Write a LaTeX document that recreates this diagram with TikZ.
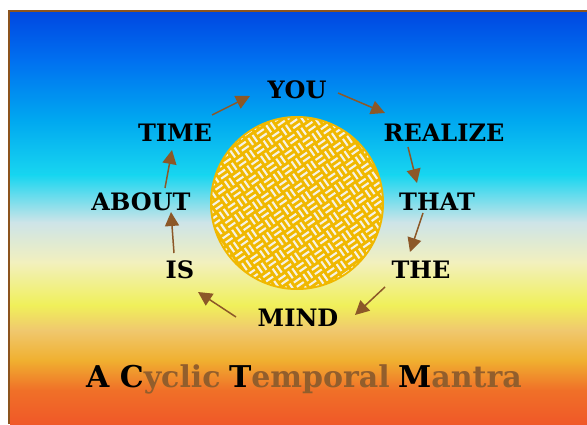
\documentclass[tikz,border=0pt]{standalone}
\usepackage{fontspec}
\setmainfont{DejaVu Serif}
\usetikzlibrary{arrows.meta}

\definecolor{framebrown}{RGB}{140,84,30}
\definecolor{arrowbrown}{RGB}{140,88,40}
\definecolor{titlebrown}{RGB}{146,94,44}
\definecolor{sungold}{RGB}{240,184,0}
\definecolor{weavewhite}{RGB}{246,242,228}
\definecolor{sk0}{RGB}{0,72,225}
\definecolor{sk1}{RGB}{0,112,240}
\definecolor{sk2}{RGB}{0,168,240}
\definecolor{sk3}{RGB}{24,214,240}
\definecolor{sk4}{RGB}{205,228,232}
\definecolor{sk5}{RGB}{242,240,190}
\definecolor{sk6}{RGB}{240,240,90}
\definecolor{sk7}{RGB}{240,200,110}
\definecolor{sk8}{RGB}{240,176,48}
\definecolor{sk9}{RGB}{240,112,40}
\definecolor{sk10}{RGB}{240,88,40}

\begin{document}
\begin{tikzpicture}[x=1pt, y=1pt,
  every node/.style={font=\bfseries\fontsize{24}{24}\selectfont, inner sep=0pt},
  cyc/.style={-{Triangle[length=14pt,width=14pt]}, color=arrowbrown, line width=1.5pt},
  weave/.style={draw=weavewhite, line width=2.1pt}]
  \useasboundingbox (0,0) rectangle (587,424);

  % Sky background, top to bottom
  \foreach \ya/\yb/\ca/\cb in {412/364/sk0/sk1, 364/304/sk1/sk2, 304/249/sk2/sk3,
      249/202/sk3/sk4, 202/162/sk4/sk5, 162/119/sk5/sk6, 119/94/sk6/sk7,
      94/64/sk7/sk8, 64/34/sk8/sk9, 34/0/sk9/sk10} {
    \shade[top color=\ca, bottom color=\cb] (10,\yb-0.3) rectangle (587,\ya);
  }
  \draw[framebrown, line width=2pt] (9,0) |- (587,413);

  % Sun with woven pattern
  \fill[sungold] (297,221) circle (87);
  \begin{scope}
    \clip (297,221) circle (85);
    \begin{scope}[shift={(297,221)}, rotate=35]
      \foreach \i in {-9,...,9} {
        \foreach \j in {-9,...,9} {
          \pgfmathtruncatemacro{\p}{mod(\i+\j+100,2)}
          \ifnum\p=0
            \draw[weave] (\i*11-4.2,\j*11-2.6) -- ++(8.4,0) (\i*11-4.2,\j*11+2.6) -- ++(8.4,0);
          \else
            \draw[weave] (\i*11-2.6,\j*11-4.2) -- ++(0,8.4) (\i*11+2.6,\j*11-4.2) -- ++(0,8.4);
          \fi
        }
      }
    \end{scope}
  \end{scope}

  % Words round the cycle
  \node (you) at (297,334) {YOU};
  \node (realize) at (444,291) {REALIZE};
  \node (that) at (437,222) {THAT};
  \node (the) at (421,154) {THE};
  \node (mind) at (298,106) {MIND};
  \node (is) at (180,154) {IS};
  \node (about) at (141,222) {ABOUT};
  \node (time) at (175,291) {TIME};

  % Arrows
  \foreach \a/\sa/\b/\sb in {time/{37,18}/you/{-47,-6}, you/{41,-3}/realize/{-59,20},
      realize/{-36,-14}/that/{-20,19}, that/{-14,-11}/the/{-11,18},
      the/{-36,-17}/mind/{57,3}, mind/{-62,1}/is/{18,-22},
      is/{-6,17}/about/{30,-10}, about/{24,14}/time/{-3,-17}} {
    \draw[cyc] ([shift={(\sa)}]\a.center) -- ([shift={(\sb)}]\b.center);
  }

  % Title
  \node[anchor=base, font=\bfseries\fontsize{30}{30}\selectfont] (title) at (304,37)
    {A C\textcolor{titlebrown}{yclic}\hspace{-2pt} T\textcolor{titlebrown}{emporal}\hspace{-2pt} M\textcolor{titlebrown}{antra}};
\end{tikzpicture}
\end{document}
